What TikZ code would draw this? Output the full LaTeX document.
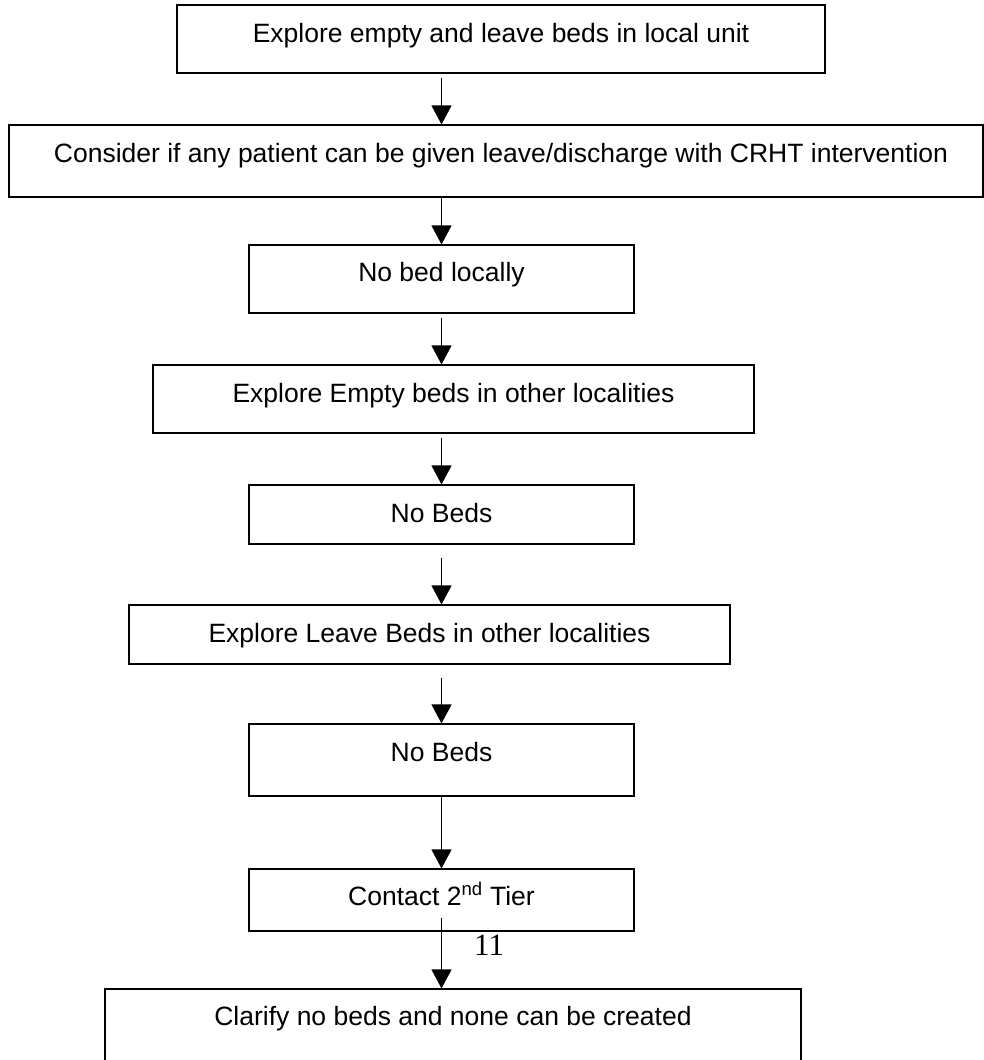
\documentclass[tikz,border=0pt]{standalone}
\usepackage{fontspec}
\setmainfont{Liberation Sans}
\newfontfamily\numfont{Liberation Serif}
\usetikzlibrary{arrows.meta}
\tikzset{
  box/.style={draw=black, line width=1.1pt, rectangle, inner sep=0pt, fill=none},
  txt/.style={anchor=base, inner sep=0pt, font=\fontsize{26.5}{30}\selectfont},
  arr/.style={draw=black, line width=1.1pt, -{Triangle[length=19pt,width=20pt]}},
  pagenum/.style={anchor=base west, inner sep=0pt, font=\numfont\fontsize{31}{34}\selectfont}
}
\begin{document}
\begin{tikzpicture}[x=1pt,y=-1pt]
\useasboundingbox (0,0) rectangle (984,1060);
\clip (0,0) rectangle (984,1060);
\fill[white] (0,0) rectangle (984,1060);
% boxes (centre x, centre y)
\node[box, minimum width=648pt, minimum height=68pt] (b1) at (501,39) {};
\node[box, minimum width=974pt, minimum height=72pt] (b2) at (496,161) {};
\node[box, minimum width=385pt, minimum height=68pt] (b3) at (441.5,279) {};
\node[box, minimum width=601pt, minimum height=68pt] (b4) at (453.5,399) {};
\node[box, minimum width=385pt, minimum height=59pt] (b5) at (441.5,514.5) {};
\node[box, minimum width=601pt, minimum height=59pt] (b6) at (429.5,634.5) {};
\node[box, minimum width=385pt, minimum height=72pt] (b7) at (441.5,760) {};
\node[box, minimum width=385pt, minimum height=62pt] (b8) at (441.5,900) {};
\node[box, minimum width=696pt, minimum height=100pt] (b9) at (453,1039) {};
% texts
\node[txt] (t1) at (501,42) {Explore empty and leave beds in local unit};
\node[txt] (t2) at (501,162) {Consider if any patient can be given leave/discharge with CRHT intervention};
\node[txt] (t3) at (441.5,281) {No bed locally};
\node[txt] (t4) at (453.5,402) {Explore Empty beds in other localities};
\node[txt] (t5) at (441.5,522) {No Beds};
\node[txt] (t6) at (429.5,642) {Explore Leave Beds in other localities};
\node[txt] (t7) at (441.5,761) {No Beds};
\node[txt] (t8) at (441.5,905) {Contact 2\textsuperscript{nd} Tier};
\node[txt] (t9) at (453,1025) {Clarify no beds and none can be created};
\node[pagenum] (pn) at (474,955) {11};
% arrows
\draw[arr] ([yshift=-4pt]b1.south -| b3.north) -- (b2.north -| b3.north);
\draw[arr] (b2.south -| b3.north) -- (b3.north);
\draw[arr] ([yshift=-4pt]b3.south) -- (b4.north -| b3.north);
\draw[arr] ([yshift=-4pt]b4.south -| b3.north) -- (b5.north);
\draw[arr] ([yshift=-13pt]b5.south) -- (b6.north -| b3.north);
\draw[arr] ([yshift=-13pt]b6.south -| b3.north) -- (b7.north);
\draw[arr] (b7.south) -- (b8.north);
\draw[arr] ([yshift=14pt]b8.south) -- (b9.north -| b8.north);
\end{tikzpicture}
\end{document}
